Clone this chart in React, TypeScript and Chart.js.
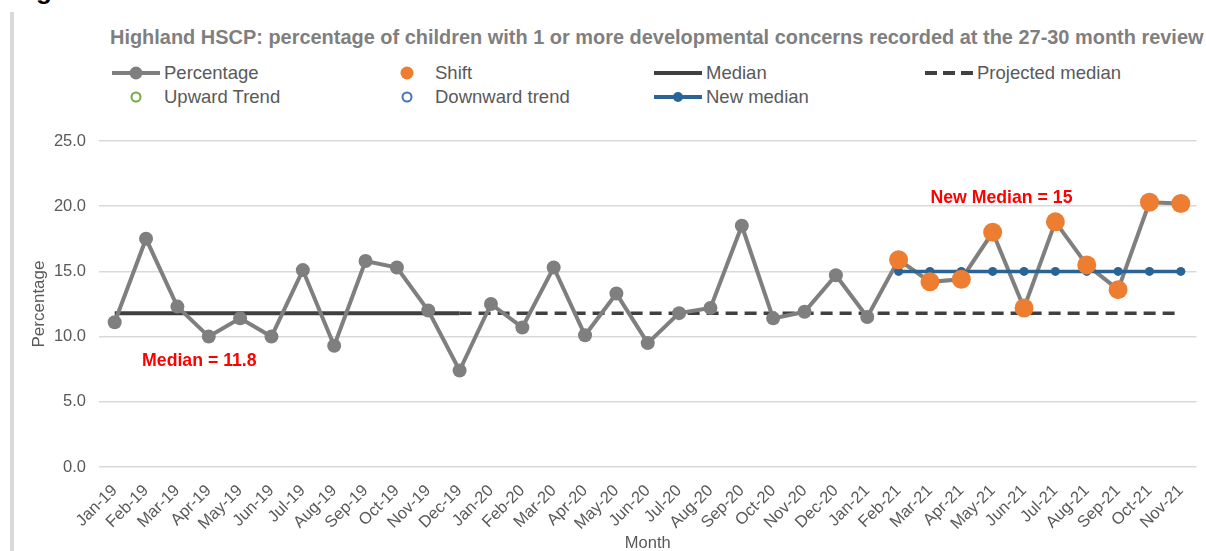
import React, { useEffect, useRef } from "react";
import { Chart, registerables } from "chart.js";

Chart.register(...registerables);

// Monthly categories
const months = [
  "Jan-19", "Feb-19", "Mar-19", "Apr-19", "May-19", "Jun-19", "Jul-19", "Aug-19", "Sep-19", "Oct-19", "Nov-19", "Dec-19",
  "Jan-20", "Feb-20", "Mar-20", "Apr-20", "May-20", "Jun-20", "Jul-20", "Aug-20", "Sep-20", "Oct-20", "Nov-20", "Dec-20",
  "Jan-21", "Feb-21", "Mar-21", "Apr-21", "May-21", "Jun-21", "Jul-21", "Aug-21", "Sep-21", "Oct-21", "Nov-21",
];

// Percentage of children with 1 or more developmental concerns
const percentage = [
  11.1, 17.5, 12.3, 10.0, 11.4, 10.0, 15.1, 9.3, 15.8, 15.3, 12.0, 7.4,
  12.5, 10.7, 15.3, 10.1, 13.3, 9.5, 11.8, 12.2, 18.5, 11.4, 11.9, 14.7,
  11.5, 15.9, 14.2, 14.4, 18.0, 12.2, 18.8, 15.5, 13.6, 20.3, 20.2,
];

const medianValue = 11.8;
const newMedianValue = 15;

// Periods (inclusive month ranges)
const medianPeriod = ["Jan-19", "Dec-19"];
const projectedPeriod = ["Dec-19", "Nov-21"];
const newMedianPeriod = ["Feb-21", "Nov-21"];
const shiftPeriod = ["Feb-21", "Nov-21"];

const yTicks = [0, 5, 10, 15, 20, 25];

// Red text notes: category position (fractional index) and value
const notes = [
  { text: "Median = 11.8", at: 2.7, value: 8.1 },
  { text: "New Median = 15", at: 28.28, value: 20.6 },
];

const FONT = '"Liberation Sans", Arial, sans-serif';
const GREY = "#7f7f7f";
const ORANGE = "#ED7D31";
const DARK = "#404040";
const BLUE = "#2A6496";
const TEXT = "#595959";

function inRange(range: string[], value: number | null) {
  return months.map((m, i) => {
    const a = months.indexOf(range[0]);
    const b = months.indexOf(range[1]);
    return i >= a && i <= b ? value : null;
  });
}

const shiftData = months.map((m, i) => {
  const a = months.indexOf(shiftPeriod[0]);
  const b = months.indexOf(shiftPeriod[1]);
  return i >= a && i <= b ? percentage[i] : null;
});

const notesPlugin = {
  id: "notes",
  afterDatasetsDraw(chart: any) {
    const { ctx, scales } = chart;
    ctx.save();
    ctx.font = `bold 17.7px ${FONT}`;
    ctx.fillStyle = "#FF0000";
    ctx.textAlign = "center";
    ctx.textBaseline = "middle";
    for (const n of notes) {
      ctx.fillText(n.text, scales.x.getPixelForValue(n.at), scales.y.getPixelForValue(n.value));
    }
    ctx.restore();
  },
};

function LineSymbol({ color, dot, dash }: { color: string; dot?: number; dash?: boolean }) {
  return (
    <svg width={48} height={16} style={{ display: "block" }}>
      <line x1={0} y1={8} x2={48} y2={8} stroke={color} strokeWidth={4}
        strokeDasharray={dash ? "12 6" : undefined} />
      {dot ? <circle cx={24} cy={8} r={dot} fill={color} /> : null}
    </svg>
  );
}

function CircleSymbol({ color, hollow }: { color: string; hollow?: boolean }) {
  return (
    <svg width={48} height={16} style={{ display: "block" }}>
      {hollow ? (
        <circle cx={24} cy={8} r={4.5} fill="none" stroke={color} strokeWidth={2} />
      ) : (
        <circle cx={24} cy={8} r={6.5} fill={color} />
      )}
    </svg>
  );
}

const legendItems = [
  { label: "Percentage", col: 0, row: 0, sym: <LineSymbol color={GREY} dot={6.5} /> },
  { label: "Shift", col: 1, row: 0, sym: <CircleSymbol color={ORANGE} /> },
  { label: "Median", col: 2, row: 0, sym: <LineSymbol color={DARK} /> },
  { label: "Projected median", col: 3, row: 0, sym: <LineSymbol color={DARK} dash /> },
  { label: "Upward Trend", col: 0, row: 1, sym: <CircleSymbol color="#70AD47" hollow /> },
  { label: "Downward trend", col: 1, row: 1, sym: <CircleSymbol color="#4472C4" hollow /> },
  { label: "New median", col: 2, row: 1, sym: <LineSymbol color={BLUE} dot={5} /> },
];

export default function App() {
  const ref = useRef<HTMLCanvasElement>(null);

  useEffect(() => {
    if (!ref.current) return;
    const chart = new Chart(ref.current, {
      type: "line",
      data: {
        labels: months,
        datasets: [
          {
            label: "Shift",
            data: shiftData,
            showLine: false,
            pointRadius: 9.5,
            pointBackgroundColor: ORANGE,
            pointBorderWidth: 0,
            borderColor: ORANGE,
            order: 0,
          },
          {
            label: "New median",
            data: inRange(newMedianPeriod, newMedianValue),
            borderColor: BLUE,
            borderWidth: 3.5,
            pointRadius: 4.5,
            pointBackgroundColor: BLUE,
            pointBorderWidth: 0,
            order: 1,
          },
          {
            label: "Percentage",
            data: percentage,
            borderColor: GREY,
            borderWidth: 4,
            pointRadius: 7,
            pointBackgroundColor: GREY,
            pointBorderWidth: 0,
            order: 2,
          },
          {
            label: "Median",
            data: inRange(medianPeriod, medianValue),
            borderColor: DARK,
            borderWidth: 4,
            pointRadius: 0,
            order: 3,
          },
          {
            label: "Projected median",
            data: inRange(projectedPeriod, medianValue),
            borderColor: DARK,
            borderWidth: 3.5,
            borderDash: [12, 7],
            pointRadius: 0,
            order: 3,
          },
          { label: "Upward Trend", data: [], order: 4 },
          { label: "Downward trend", data: [], order: 4 },
        ],
      },
      options: {
        animation: false,
        responsive: false,
        layout: { padding: { top: 141, right: 6, bottom: 0, left: 0 } },
        plugins: {
          legend: { display: false },
          title: { display: false },
          tooltip: { enabled: false },
        },
        scales: {
          x: {
            offset: true,
            grid: { display: false },
            border: { display: false },
            ticks: {
              color: TEXT,
              font: { size: 16.5, family: FONT },
              minRotation: 45,
              maxRotation: 45,
              autoSkip: false,
              padding: 6,
            },
            title: {
              display: true,
              text: "Month",
              color: TEXT,
              font: { size: 16.5, family: FONT },
              padding: { top: 0, bottom: -2 },
            },
            afterFit: (s: any) => {
              s.height = 84;
            },
          },
          y: {
            min: 0,
            max: 25,
            afterBuildTicks: (s: any) => {
              s.ticks = yTicks.map((v) => ({ value: v }));
            },
            ticks: {
              color: TEXT,
              font: { size: 16.5, family: FONT },
              padding: 13,
              callback: (v: any) => Number(v).toFixed(1),
            },
            grid: { color: "#d9d9d9", lineWidth: 1.5, drawTicks: false },
            border: { display: false },
            title: {
              display: true,
              text: "Percentage",
              color: TEXT,
              font: { size: 17, family: FONT },
              padding: { top: 29, bottom: 0 },
            },
            afterFit: (s: any) => {
              s.width = 99;
            },
          },
        },
      },
      plugins: [notesPlugin],
    } as any);
    return () => chart.destroy();
  }, []);

  return (
    <div
      style={{
        position: "fixed",
        left: 0,
        top: 0,
        width: 1206,
        height: 551,
        background: "#fff",
        overflow: "hidden",
        fontFamily: FONT,
      }}
    >
      <div style={{ position: "absolute", left: 36, top: 0, width: 30, height: 5, overflow: "hidden" }}>
        <span
          style={{
            position: "absolute",
            left: 0,
            top: -23.5,
            fontSize: 26,
            lineHeight: "26px",
            fontWeight: "bold",
            color: "#000",
          }}
        >
          g
        </span>
      </div>
      <div style={{ position: "absolute", left: 10, top: 12, width: 4, height: 539, background: "#d9d9d9" }} />
      <div
        style={{
          position: "absolute",
          left: 110,
          top: 27,
          whiteSpace: "nowrap",
          fontSize: 19.95,
          lineHeight: "20px",
          fontWeight: "bold",
          color: GREY,
        }}
      >
        Highland HSCP: percentage of children with 1 or more developmental concerns recorded at the 27-30 month review
      </div>
      {legendItems.map((it) => (
        <div
          key={it.label}
          style={{
            position: "absolute",
            left: 112 + it.col * 271,
            top: 61 + it.row * 24,
            height: 24,
            display: "flex",
            alignItems: "center",
            whiteSpace: "nowrap",
          }}
        >
          {it.sym}
          <span style={{ marginLeft: 4, fontSize: 18.5, lineHeight: "24px", color: TEXT }}>{it.label}</span>
        </div>
      ))}
      <canvas ref={ref} width={1206} height={551} style={{ position: "absolute", left: 0, top: 0 }} />
    </div>
  );
}
